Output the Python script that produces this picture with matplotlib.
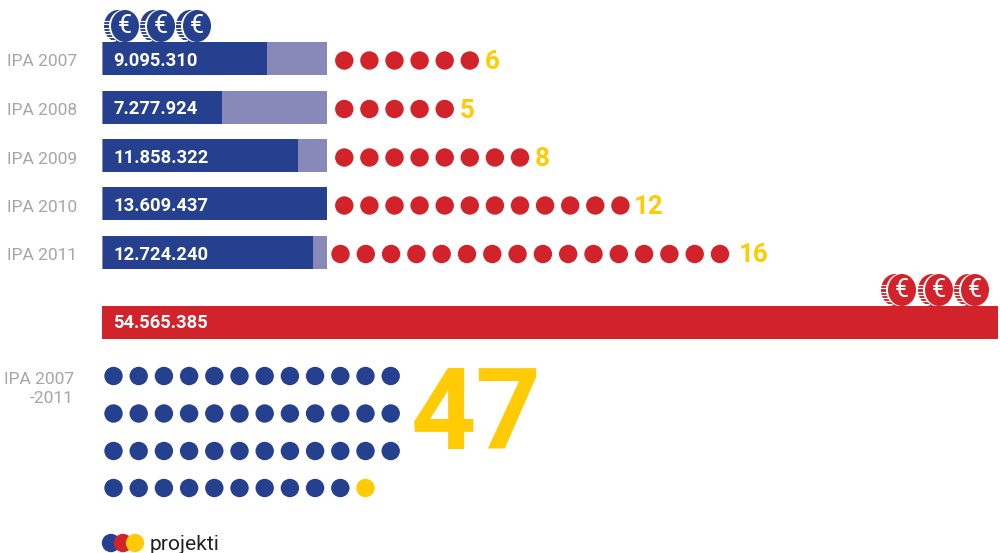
import matplotlib
matplotlib.use("Agg")
import matplotlib.pyplot as plt
from matplotlib.patches import Ellipse

plt.rcParams['font.family'] = ['Roboto', 'DejaVu Sans']

years = ["IPA 2007", "IPA 2008", "IPA 2009", "IPA 2010", "IPA 2011"]
amount_labels = ["9.095.310", "7.277.924", "11.858.322", "13.609.437", "12.724.240"]
funded_share = [0.733, 0.533, 0.871, 1.0, 0.938]
projects = [6, 5, 8, 12, 16]
total_label = "54.565.385"
total_projects = 47
total_years = "IPA 2007\n-2011"
legend_label = "projekti"

BLUE = "#25408f"
LIGHT = "#8888b9"
RED = "#d2232a"
YELLOW = "#ffcb05"
GRAY = "#a6a6a6"

fig = plt.figure(figsize=(10, 5.53), dpi=100)
ax = fig.add_axes([0, 0, 1, 1])
ax.set_xlim(0, 1000)
ax.set_ylim(553, 0)
ax.axis("off")


def px(size):
    return size * 0.72


def dot(x, y, color, r=9.2, z=3):
    ax.add_patch(Ellipse((x, y), 2 * r, 2 * r, fc=color, ec="none", zorder=z))


def coin(cx, cy, color):
    rx, ry = 14, 16
    ax.add_patch(Ellipse((cx - 7, cy), 2 * rx, 2 * ry, fc=color, ec="none", zorder=1))
    for k in range(-2, 6):
        ax.plot([cx - 23, cx - 10], [cy + k * 3.1 + 1.5] * 2, color="white", lw=0.8, zorder=1.1)
    ax.add_patch(Ellipse((cx - 1, cy), 2 * rx + 2, 2 * ry + 1, fc="white", ec="none", zorder=1.2))
    ax.add_patch(Ellipse((cx, cy), 2 * rx, 2 * ry, fc=color, ec="none", zorder=1.3))
    ax.text(cx, cy, "€", color="white", fontsize=px(25), ha="center", va="center", zorder=1.4)


rows_y = [60.5, 109, 157.5, 205.5, 254]
band_left, band_width, bar_h = 102, 225, 33
dot_starts = [344.3, 344.3, 344.3, 344.3, 340.5]
dot_steps = [25.1, 25.1, 25.1, 25.1, 25.3]
num_gap = [-10, -10, -10, -12, -6]

for i, y in enumerate(rows_y):
    bar_y = y - 2
    ax.barh(bar_y, band_width, left=band_left, height=bar_h, color=LIGHT, zorder=2)
    inset = 1.2
    ax.barh(bar_y, band_width * funded_share[i] - inset, left=band_left + inset, height=bar_h,
            color=BLUE, zorder=2.1)
    ax.text(113.5, y + 0.5, amount_labels[i], color="white", fontsize=px(18.4), fontweight="bold",
            va="center", ha="left", zorder=3)
    ax.text(7, y + 1.5, years[i], color=GRAY, fontsize=px(17.4), va="center", ha="left")
    for j in range(projects[i]):
        dot(dot_starts[i] + j * dot_steps[i], y, RED)
    end = dot_starts[i] + projects[i] * dot_steps[i]
    ax.text(end + num_gap[i], y + 1.5, str(projects[i]), color=YELLOW, fontsize=px(26),
            fontweight="bold", va="center", ha="left", zorder=3)

for cx in [125, 161, 197]:
    coin(cx, 26, BLUE)
for cx in [902, 939, 975]:
    coin(cx, 290, RED)

ax.barh(322.5, 896, left=102, height=33, color=RED, zorder=2)
ax.text(113, 323.5, total_label, color="white", fontsize=px(18.4), fontweight="bold", va="center", ha="left", zorder=3)

ax.text(74, 389, total_years, color=GRAY, fontsize=px(17.4), ha="right", va="center", linespacing=1.35)

per_row = 12
grid_y = [376, 413.5, 451, 488]
dot_step = 25.2
for n in range(total_projects):
    r, c = divmod(n, per_row)
    color = YELLOW if n == total_projects - 1 else BLUE
    dot(113.5 + c * dot_step, grid_y[r], color)

ax.text(411, 418, str(total_projects), color=YELLOW, fontsize=px(114), fontweight="bold",
        va="center", ha="left", zorder=3)

for x, color in zip([111, 123, 135], [BLUE, RED, YELLOW]):
    dot(x, 543, color)
ax.text(150, 544, legend_label, color="#222222", fontsize=px(21), va="center", ha="left")

fig.savefig("out.png", dpi=100)
